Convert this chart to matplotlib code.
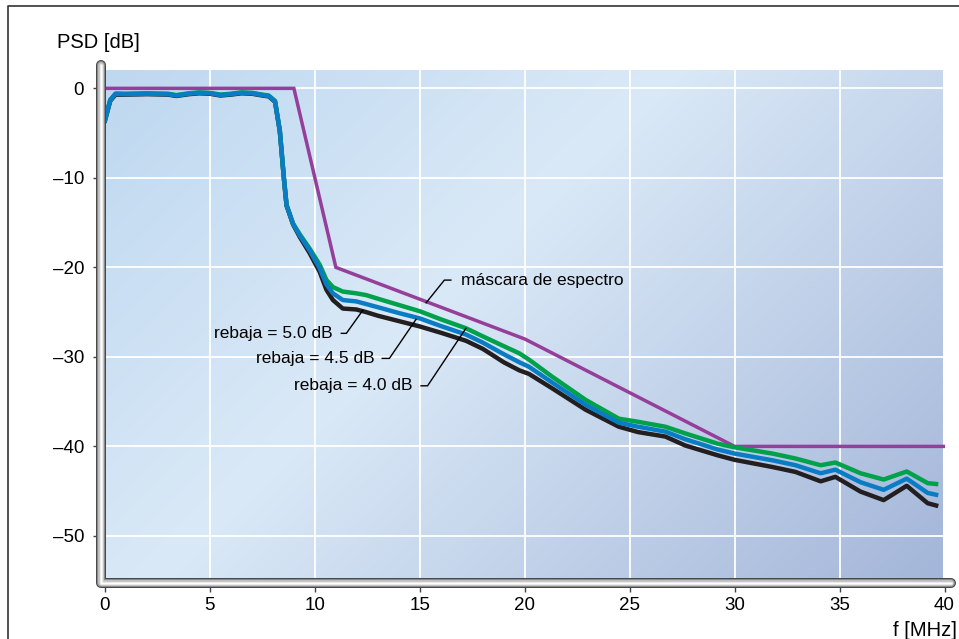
import numpy as np
import matplotlib
matplotlib.use("Agg")
import matplotlib.pyplot as plt
from matplotlib.lines import Line2D
from matplotlib.ticker import FuncFormatter

plt.rcParams['font.family'] = ['Liberation Sans', 'DejaVu Sans']

# ---------------- data ----------------
mask_f = [0, 9, 11, 20, 30, 40]
mask_db = [0, 0, -20, -28, -40, -40]

freq = [0, 0.25, 0.5, 1, 2, 3, 3.4, 4, 4.5, 5, 5.5, 6, 6.5, 7, 7.5, 7.8, 8.1,
        8.33, 8.52, 8.65, 8.96, 9.28, 9.75, 10.23, 10.55, 10.86, 11.33, 11.97,
        12.45, 13, 14, 15, 16, 17.2, 18, 19, 19.74, 20.2, 21.3, 22.9, 24.48,
        25.4, 26.7, 27.65, 29.2, 30, 31.8, 32.9, 34.1, 34.8, 36.0, 37.1, 38.2,
        39.2, 39.6]

psd_40 = [-3.5, -1.3, -0.6, -0.6, -0.55, -0.6, -0.75, -0.55, -0.45, -0.5, -0.7,
          -0.6, -0.45, -0.5, -0.7, -0.8, -1.4, -4.7, -9.9, -13.0, -15.1, -16.3,
          -17.9, -19.7, -21.4, -22.2, -22.7, -22.9, -23.1, -23.5, -24.2, -24.9,
          -25.8, -26.8, -27.7, -28.8, -29.6, -30.3, -32.2, -34.8, -36.9, -37.25,
          -37.8, -38.55, -39.7, -40.1, -40.8, -41.35, -42.1, -41.8, -43.0, -43.7,
          -42.8, -44.1, -44.2]

psd_45 = [-3.5, -1.3, -0.6, -0.65, -0.6, -0.65, -0.8, -0.6, -0.5, -0.55, -0.75,
          -0.65, -0.5, -0.55, -0.75, -0.85, -1.45, -4.75, -9.95, -13.05, -15.15,
          -16.45, -18.1, -20.1, -21.9, -22.9, -23.65, -23.8, -24.1, -24.45, -25.1,
          -25.7, -26.55, -27.5, -28.4, -29.7, -30.6, -31.1, -32.85, -35.35, -37.35,
          -37.8, -38.35, -39.2, -40.35, -40.8, -41.55, -42.1, -43.0, -42.6, -44.0,
          -44.85, -43.6, -45.2, -45.4]

psd_50 = [-3.6, -1.4, -0.7, -0.7, -0.65, -0.7, -0.85, -0.65, -0.55, -0.6, -0.8,
          -0.7, -0.55, -0.6, -0.8, -0.9, -1.5, -4.8, -10.0, -13.1, -15.2, -16.6,
          -18.4, -20.5, -22.5, -23.65, -24.6, -24.7, -25.0, -25.4, -26.0, -26.6,
          -27.3, -28.2, -29.1, -30.6, -31.5, -31.9, -33.5, -35.9, -37.8, -38.4,
          -38.9, -39.9, -41.0, -41.5, -42.3, -42.85, -43.9, -43.4, -45.05, -46.0,
          -44.4, -46.35, -46.6]

x_ticks = [0, 5, 10, 15, 20, 25, 30, 35, 40]
y_ticks = [0, -10, -20, -30, -40, -50]

mask_label = "máscara de espectro"
labels = ["rebaja = 5.0 dB", "rebaja = 4.5 dB", "rebaja = 4.0 dB"]

# ---------------- figure ----------------
W, H = 959, 639
fig = plt.figure(figsize=(W / 100, H / 100), dpi=100)

def fx(px):
    return px / W

def fy(py):
    return 1 - py / H

ax_l, ax_r, ax_t, ax_b = 105, 944.5, 70, 578
ax = fig.add_axes([fx(ax_l), fy(ax_b), fx(ax_r) - fx(ax_l), fy(ax_t) - fy(ax_b)])
xlim = (0, 39.9)
ylim = (-54.7, 2.05)
ax.set_xlim(*xlim)
ax.set_ylim(*ylim)

# gradient background
ny, nx = 120, 240
u = np.linspace(0, 1, nx)[None, :]
v = np.linspace(0, 1, ny)[:, None]  # 0 top, 1 bottom
s = (0.62 * u + 0.38 * v)
c0 = np.array([190, 216, 240]) / 255
c1 = np.array([218, 233, 247]) / 255
c2 = np.array([164, 182, 217]) / 255
s3 = s[..., None]
t1 = np.clip(s3 / 0.42, 0, 1)
t2 = np.clip((s3 - 0.42) / 0.58, 0, 1)
img = np.where(s3 < 0.42, c0 + (c1 - c0) * t1, c1 + (c2 - c1) * t2)
ax.imshow(img, extent=[xlim[0], xlim[1], ylim[0], ylim[1]], aspect='auto',
          origin='upper', zorder=0, interpolation='bilinear')

ax.set_xticks(x_ticks)
ax.set_yticks(y_ticks)
ax.grid(True, color='white', lw=1.3)
ax.set_axisbelow(False)
for gl in ax.get_xgridlines() + ax.get_ygridlines():
    gl.set_zorder(0.5)
for sp in ax.spines.values():
    sp.set_visible(False)

fmt = FuncFormatter(lambda val, pos: f"{val:g}".replace('-', '\u2013'))
ax.xaxis.set_major_formatter(fmt)
ax.yaxis.set_major_formatter(fmt)
ax.tick_params(axis='y', length=8.5, width=1, color='#444444', pad=6.5,
               labelsize=13.5, direction='out')
ax.tick_params(axis='x', length=10, width=1, color='#444444', pad=3.5,
               labelsize=13.5, direction='out')

# curves
ax.plot(mask_f, mask_db, color='#963f9a', lw=2.5, zorder=3, solid_joinstyle='miter')
ax.plot(freq, psd_50, color='#231f20', lw=3.2, zorder=4)
ax.plot(freq, psd_40, color='#00a14b', lw=3.2, zorder=5)
ax.plot(freq, psd_45, color='#0a7cc4', lw=3.2, zorder=6)

# annotations (leader lines)
def leader(pts):
    xs, ys = zip(*pts)
    ax.plot(xs, ys, color='black', lw=1.0, zorder=7, clip_on=False)

fs_ann = 12.5
leader([(16.48, -21.42), (16.17, -21.42), (15.3, -23.96)])
ax.text(16.96, -21.42, mask_label, ha='left', va='center', fontsize=fs_ann, zorder=8)

leader([(11.26, -27.37), (11.5, -27.37), (12.29, -24.77)])
ax.text(10.83, -27.37, labels[0], ha='right', va='center', fontsize=fs_ann, zorder=8)

leader([(13.21, -30.17), (13.55, -30.17), (14.82, -25.81)])
ax.text(12.84, -30.17, labels[1], ha='right', va='center', fontsize=fs_ann, zorder=8)

leader([(15.06, -33.23), (15.37, -33.23), (17.2, -26.8)])
ax.text(14.66, -33.23, labels[2], ha='right', va='center', fontsize=fs_ann, zorder=8)

# tube-like axes bars
bx = [fx(101.3), fx(101.3), fx(951)]
by = [fy(65), fy(582.5), fy(582.5)]
for lw, col in [(7.2, '#474747'), (5.8, '#8a8a8a'), (4.2, '#c2c2c2'), (2.4, '#e8e8e8'), (0.9, '#ffffff')]:
    fig.add_artist(Line2D(bx, by, transform=fig.transFigure, lw=lw, color=col,
                          solid_capstyle='round', solid_joinstyle='round', zorder=5))

# axis titles
fig.text(fx(57), fy(43), "PSD [dB]", ha='left', va='center', fontsize=14.5)
fig.text(fx(957), fy(630), "f [MHz]", ha='right', va='center', fontsize=14.5)

# figure border (top and left)
fig.add_artist(Line2D([fx(8), fx(8), fx(959)], [fy(639), fy(6), fy(6)],
                      transform=fig.transFigure, lw=1.2, color='#333333'))

fig.savefig("out.png", dpi=100)
